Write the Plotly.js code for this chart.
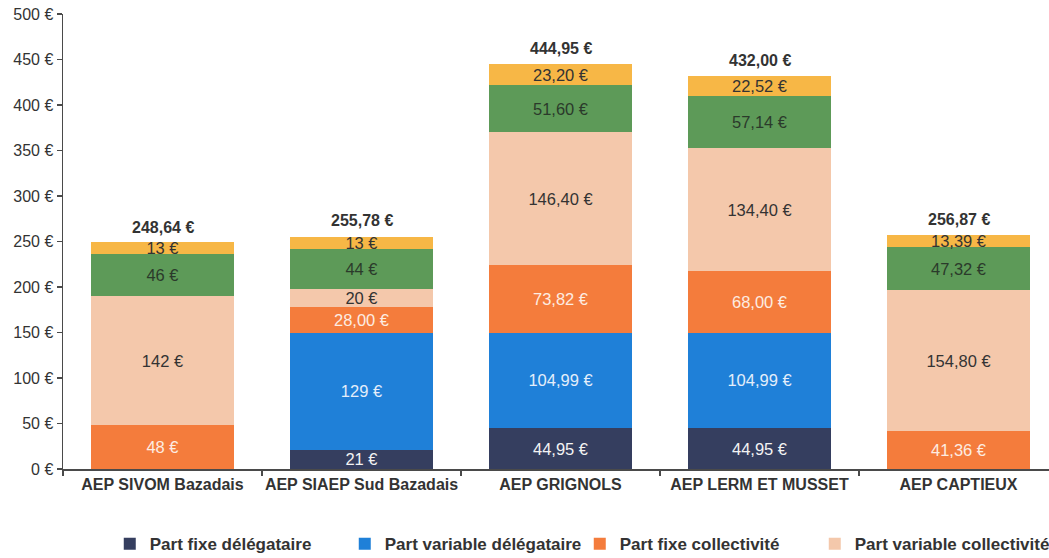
<!DOCTYPE html>
<html><head><meta charset="utf-8">
<script src="https://cdn.plot.ly/plotly-3.0.1.min.js"></script>
<style>html,body{margin:0;padding:0;overflow:hidden;background:#fff}#chart{width:1070px;height:558px}</style>
</head><body><div id="chart"></div>
<script>
const categories = ['AEP SIVOM Bazadais', 'AEP SIAEP Sud Bazadais', 'AEP GRIGNOLS', 'AEP LERM ET MUSSET', 'AEP CAPTIEUX'];

const partFixeDelegataire = [null, 21, 44.95, 44.95, null];
const partFixeDelegataireText = ['', '21 €', '44,95 €', '44,95 €', ''];

const partVariableDelegataire = [null, 129, 104.99, 104.99, null];
const partVariableDelegataireText = ['', '129 €', '104,99 €', '104,99 €', ''];

const partFixeCollectivite = [48, 28, 73.82, 68, 41.36];
const partFixeCollectiviteText = ['48 €', '28,00 €', '73,82 €', '68,00 €', '41,36 €'];

const partVariableCollectivite = [142, 20, 146.40, 134.40, 154.80];
const partVariableCollectiviteText = ['142 €', '20 €', '146,40 €', '134,40 €', '154,80 €'];

const redevances = [46, 44, 51.60, 57.14, 47.32];
const redevancesText = ['46 €', '44 €', '51,60 €', '57,14 €', '47,32 €'];

const tva = [13, 13, 23.20, 22.52, 13.39];
const tvaText = ['13 €', '13 €', '23,20 €', '22,52 €', '13,39 €'];

const totals = [248.64, 255.78, 444.95, 432.00, 256.87];
const totalsText = ['248,64 €', '255,78 €', '444,95 €', '432,00 €', '256,87 €'];

const yTickVals = [0, 50, 100, 150, 200, 250, 300, 350, 400, 450, 500];
const yTickText = ['0 €', '50 €', '100 €', '150 €', '200 €', '250 €', '300 €', '350 €', '400 €', '450 €', '500 €'];

const FONT = '"Liberation Sans", Arial, sans-serif';
const LIGHT = '#f3f3f3';
const DARK = '#333333';

function barTrace(name, values, labels, color, textColor, showLegend) {
  return {
    type: 'bar', name: name, x: categories, y: values,
    text: labels, texttemplate: '%{text}',
    textposition: 'inside', insidetextanchor: 'middle', textangle: 0,
    constraintext: 'none',
    insidetextfont: {family: FONT, size: 16.5, color: textColor},
    marker: {color: color, line: {width: 0}},
    showlegend: showLegend, hoverinfo: 'name+y'
  };
}

const data = [
  barTrace('Part fixe délégataire', partFixeDelegataire, partFixeDelegataireText, '#353e5f', LIGHT, true),
  barTrace('Part variable délégataire', partVariableDelegataire, partVariableDelegataireText, '#1f80d8', '#e4eefa', true),
  barTrace('Part fixe collectivité', partFixeCollectivite, partFixeCollectiviteText, '#f47c3c', '#fdece2', true),
  barTrace('Part variable collectivité', partVariableCollectivite, partVariableCollectiviteText, '#f4c8ab', DARK, true),
  barTrace("Redevances Agence de l'eau", redevances, redevancesText, '#5d9a58', '#2b3a2b', false),
  barTrace('TVA', tva, tvaText, '#f7b746', DARK, false)
];

const annotations = categories.map((c, i) => ({
  x: c, y: totals[i], xref: 'x', yref: 'y',
  text: totalsText[i], showarrow: false,
  xanchor: 'center', yanchor: 'bottom', yshift: 5,
  font: {family: FONT, size: 16, color: DARK, weight: 'bold'}
}));

const layout = {
  width: 1070, height: 558,
  margin: {l: 63, r: 12, t: 14, b: 89, autoexpand: false},
  paper_bgcolor: '#ffffff', plot_bgcolor: '#ffffff',
  font: {family: FONT, size: 15, color: DARK},
  barmode: 'stack', bargap: 0.286,
  annotations: annotations,
  xaxis: {
    type: 'category', range: [-0.5, 4.5], tickangle: 0,
    showline: true, linecolor: '#4a4a4a', linewidth: 1.5,
    ticks: 'outside', tickson: 'boundaries', ticklen: 5, tickcolor: '#4a4a4a', tickwidth: 1.5,
    tickfont: {family: FONT, size: 16, color: DARK, weight: 'bold'},
    showgrid: false, zeroline: false, fixedrange: true
  },
  yaxis: {
    range: [0, 500], tickvals: yTickVals, ticktext: yTickText,
    showline: true, linecolor: '#4a4a4a', linewidth: 1.5,
    ticks: 'outside', ticklen: 5, tickcolor: '#4a4a4a', tickwidth: 1.5,
    tickfont: {family: FONT, size: 16, color: DARK},
    showgrid: false, zeroline: false, fixedrange: true
  },
  legend: {
    orientation: 'h', x: 0.047, xanchor: 'left', y: -0.165, yanchor: 'middle',
    entrywidth: 190, entrywidthmode: 'pixels',
    font: {family: FONT, size: 17, color: DARK, weight: 'bold'},
    bgcolor: 'rgba(0,0,0,0)', traceorder: 'normal'
  },
  showlegend: true
};

Plotly.newPlot('chart', data, layout, {displayModeBar: false, staticPlot: true});
</script>
</body></html>
